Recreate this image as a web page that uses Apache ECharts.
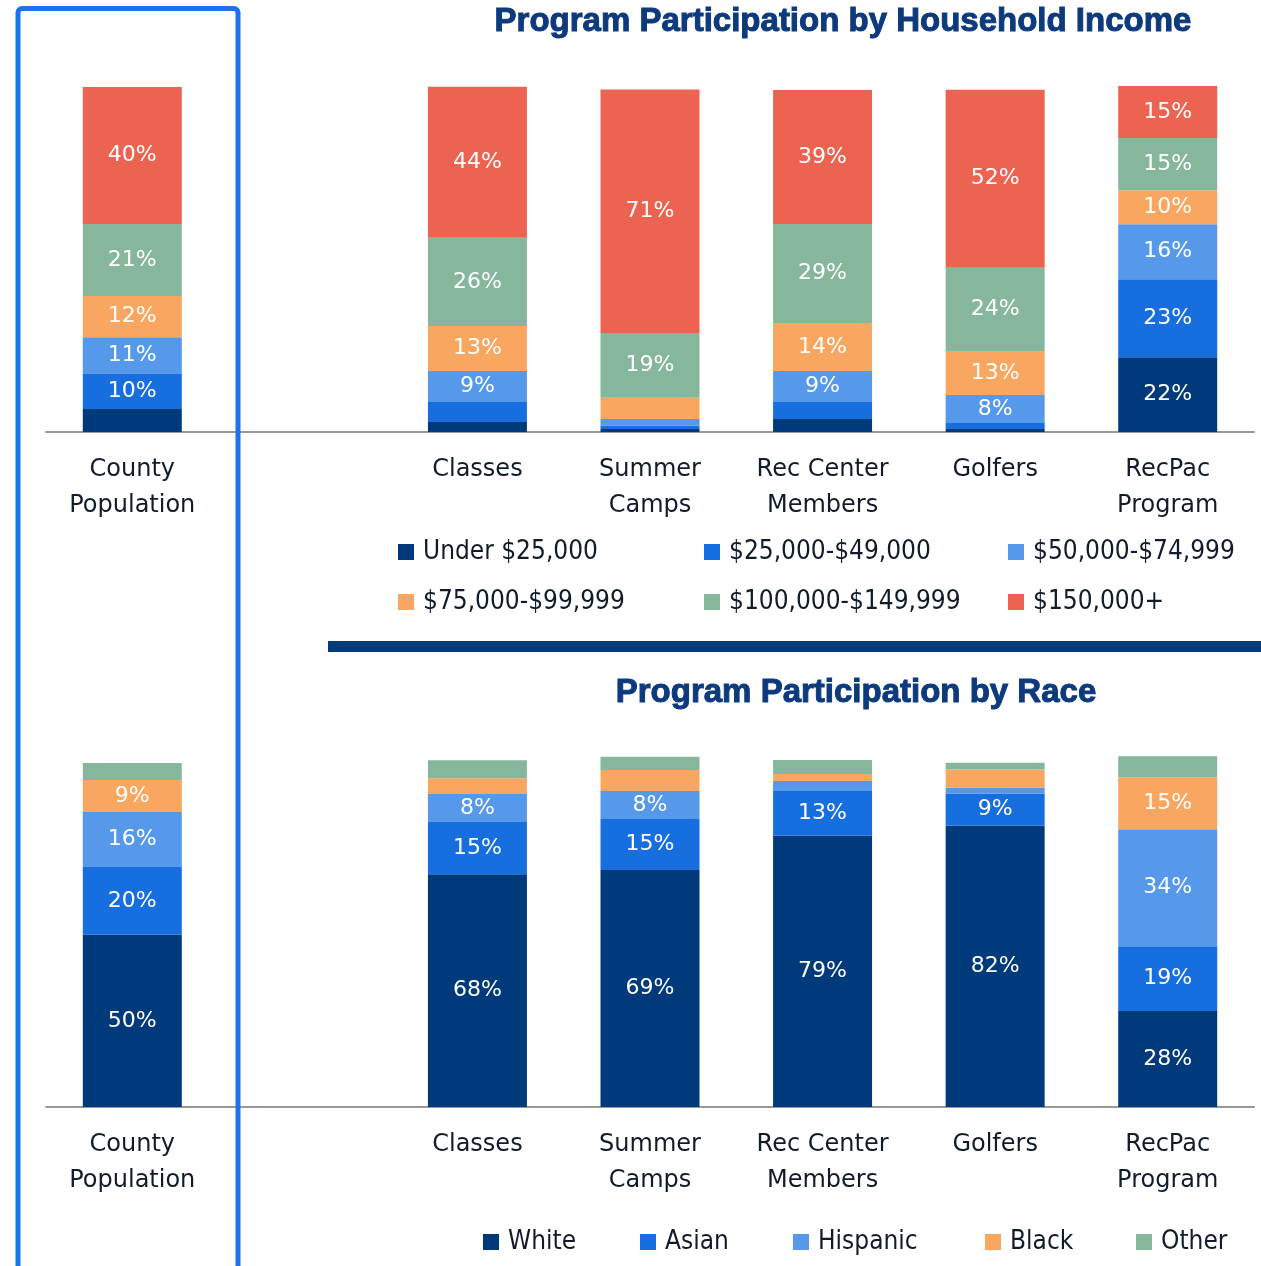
<!DOCTYPE html>
<html>
<head>
<meta charset="utf-8">
<title>Program Participation</title>
<script src="https://cdn.jsdelivr.net/npm/echarts@6/dist/echarts.min.js"></script>
<style>
  html, body { margin: 0; padding: 0; background: #fff; }
  #chart { width: 1261px; height: 1266px; }
</style>
</head>
<body>
<div id="chart"></div>
<script>
// categories (the empty one keeps the gap after County Population)
const categories = ["County\nPopulation", "", "Classes", "Summer\nCamps", "Rec Center\nMembers", "Golfers", "RecPac\nProgram"];

// household income shares, %
const incomeNames = ["Under $25,000", "$25,000-$49,000", "$50,000-$74,999", "$75,000-$99,999", "$100,000-$149,999", "$150,000+"];
const incUnder25 = [6.7, "-", 2.9, 0.9, 3.8, 0.9, 21.7];
const inc25to49 = [10.1, "-", 5.8, 0.9, 4.9, 1.7, 22.6];
const inc50to74 = [10.7, "-", 9.0, 2.0, 9.0, 8.1, 15.9];
const inc75to99 = [11.9, "-", 13.0, 6.1, 13.9, 12.8, 9.9];
const inc100to149 = [20.9, "-", 25.6, 18.8, 28.7, 24.1, 15.1];
const inc150plus = [39.7, "-", 43.8, 70.6, 38.8, 51.6, 15.1];

// race shares, %
const raceNames = ["White", "Asian", "Hispanic", "Black", "Other"];
const raceWhite = [49.9, "-", 67.5, 68.7, 78.6, 81.6, 27.8];
const raceAsian = [19.7, "-", 15.1, 14.8, 13.0, 9.3, 18.8];
const raceHispanic = [15.9, "-", 8.1, 8.1, 2.9, 1.7, 33.9];
const raceBlack = [9.3, "-", 4.6, 6.1, 2.0, 5.2, 15.1];
const raceOther = [4.9, "-", 5.2, 3.8, 4.1, 2.0, 6.1];

const palette = ["#003a7a", "#166edf", "#5699eb", "#f8a660", "#86b79c", "#ec6351"];
const raceColors = ["#003a7a", "#166edf", "#5699eb", "#f8a660", "#86b79c"];
const textColor = "#111c2b";
const baseFont = "DejaVu Sans";
const legendFont = "DejaVu Sans Condensed, Liberation Sans Narrow, DejaVu Sans";

const chart = echarts.init(document.getElementById("chart"));

function makeSeries(name, data, color, axisIdx, stack) {
    return {
        name: name,
        type: "bar",
        stack: stack,
        xAxisIndex: axisIdx,
        yAxisIndex: axisIdx,
        barWidth: 99,
        clip: false,
        data: data,
        itemStyle: { color: color },
        label: {
            show: true,
            position: "inside",
            color: "#fff",
            fontFamily: baseFont,
            fontSize: 22,
            formatter: (p) => (p.value >= 7.5 ? Math.round(p.value) + "%" : ""),
        },
        emphasis: { disabled: true },
    };
}

const incomeData = [incUnder25, inc25to49, inc50to74, inc75to99, inc100to149, inc150plus];
const raceData = [raceWhite, raceAsian, raceHispanic, raceBlack, raceOther];

const series = [];
incomeData.forEach((d, i) => series.push(makeSeries(incomeNames[i], d, palette[i], 0, "income")));
raceData.forEach((d, i) => series.push(makeSeries(raceNames[i], d, raceColors[i], 1, "race")));

// one legend per item so the columns line up like the original
const legendStyle = {
    icon: "rect",
    itemWidth: 16,
    itemHeight: 16,
    padding: 0,
    selectedMode: false,
    textStyle: { color: textColor, fontFamily: legendFont, fontSize: 26, padding: [0, 0, 0, 4] },
};
const incomeLegendPos = [[398, 539], [704, 539], [1008, 539], [398, 589], [704, 589], [1008, 589]];
const raceLegendPos = [[483, 1229], [640, 1229], [793, 1229], [985, 1229], [1136, 1229]];
const legends = [];
incomeNames.forEach((n, i) => legends.push(Object.assign({ data: [n], left: incomeLegendPos[i][0], top: incomeLegendPos[i][1] }, legendStyle)));
raceNames.forEach((n, i) => legends.push(Object.assign({ data: [n], left: raceLegendPos[i][0], top: raceLegendPos[i][1] }, legendStyle)));

const xAxisBase = {
    type: "category",
    data: categories,
    axisTick: { show: false },
    axisLine: { lineStyle: { color: "#999", width: 2 } },
    axisLabel: {
        color: textColor,
        fontFamily: baseFont,
        fontSize: 24,
        lineHeight: 36,
        margin: 20,
        interval: 0,
    },
};
const yAxisBase = { type: "value", min: 0, max: 100, show: false };

const titleStyle = {
    color: "#0d3a7d",
    fontFamily: "Liberation Sans",
    fontWeight: "bold",
    fontSize: 33,
    textBorderColor: "#0d3a7d",
    textBorderWidth: 1,
};

const option = {
    animation: false,
    backgroundColor: "#fff",
    title: [
        { text: "Program Participation by Household Income", left: 838, top: 0, textAlign: "center", textStyle: titleStyle },
        { text: "Program Participation by Race", left: 851, top: 671, textAlign: "center", textStyle: titleStyle },
    ],
    legend: legends,
    grid: [
        { left: 46, right: 7, top: 87, height: 345 },
        { left: 46, right: 7, top: 762, height: 345 },
    ],
    xAxis: [Object.assign({ gridIndex: 0 }, xAxisBase), Object.assign({ gridIndex: 1 }, xAxisBase)],
    yAxis: [Object.assign({ gridIndex: 0 }, yAxisBase), Object.assign({ gridIndex: 1 }, yAxisBase)],
    series: series,
    graphic: [
        {
            type: "rect",
            z: 100,
            shape: { x: 328, y: 641, width: 933, height: 11 },
            style: { fill: "#003a78" },
        },
        {
            type: "rect",
            z: 100,
            shape: { x: 18, y: 8.5, width: 220, height: 1290, r: 4 },
            style: { fill: "none", stroke: "#1a73e8", lineWidth: 5 },
        },
    ],
};

chart.setOption(option);
window.addEventListener("resize", () => chart.resize());
</script>
</body>
</html>
